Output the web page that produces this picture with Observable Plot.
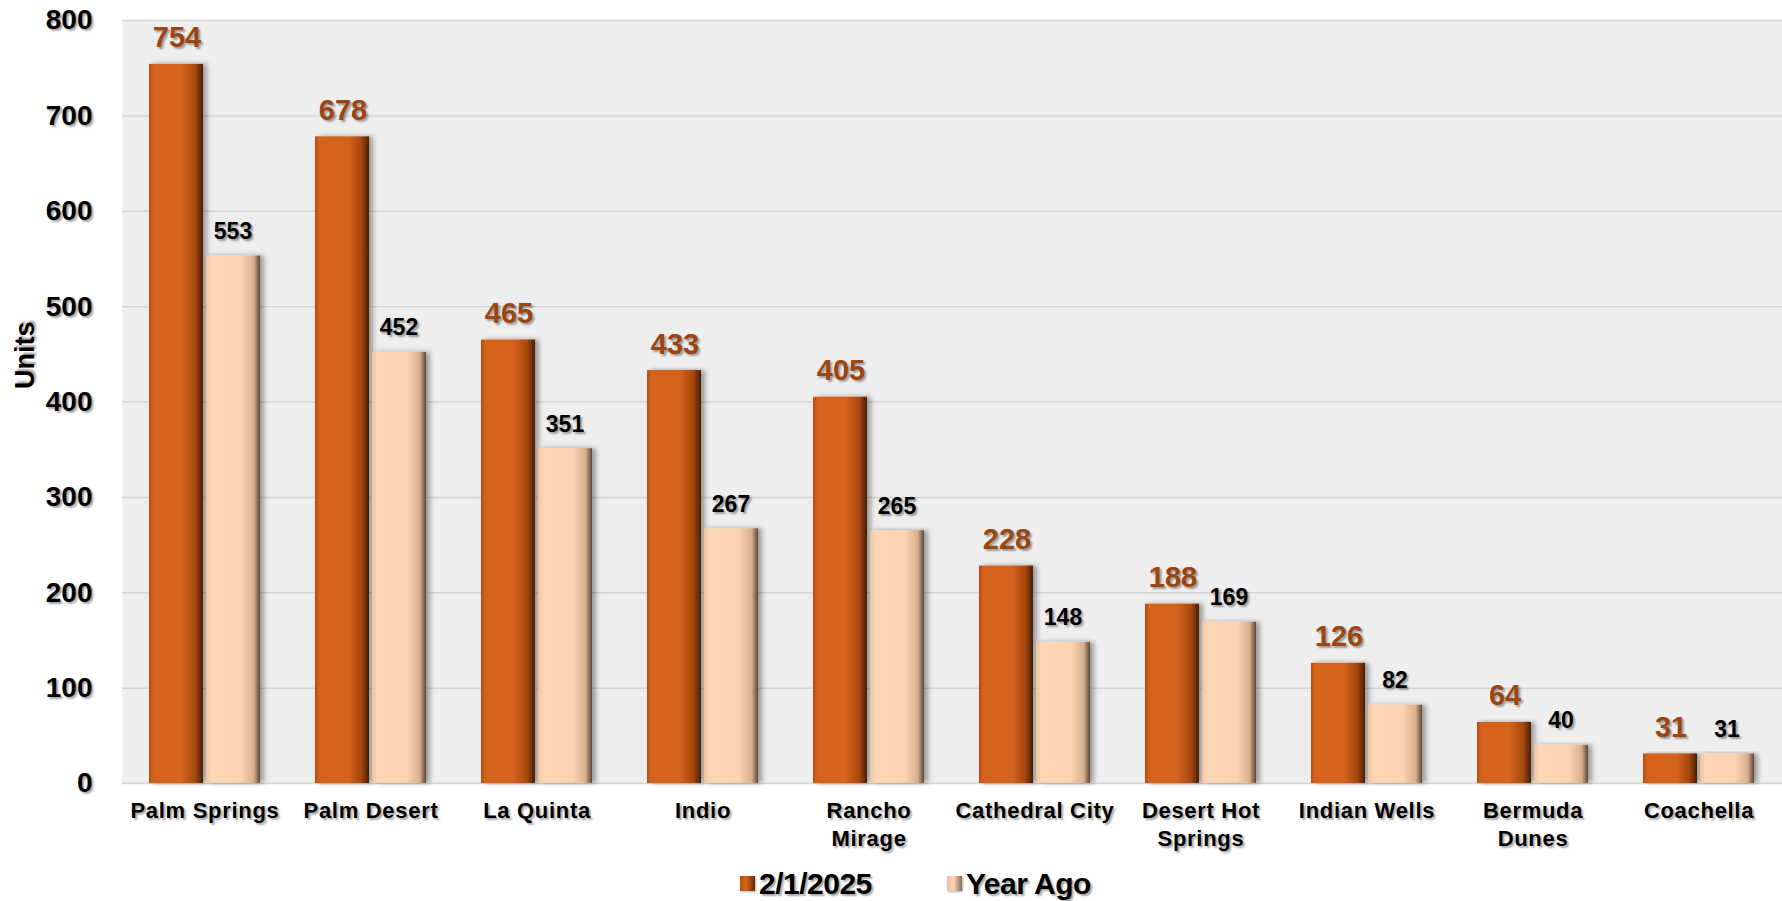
<!DOCTYPE html>
<html>
<head>
<meta charset="utf-8">
<script src="https://cdn.jsdelivr.net/npm/d3@7"></script>
<script src="https://cdn.jsdelivr.net/npm/@observablehq/plot@0.6"></script>
<style>
  html, body { margin: 0; padding: 0; background: #fff; }
  body { width: 1782px; height: 901px; overflow: hidden; font-family: "Liberation Sans", Arial, sans-serif; }
  #chart svg text { text-shadow: 2px 2px 2px rgba(0,0,0,0.35); }
  #chart g[aria-label="bar"] rect { filter: url(#barShadow); }
  #chart g[aria-label="x-axis tick label"] text { letter-spacing: 0.7px; }
  #legend { position: relative; height: 35px; font-weight: bold; font-size: 30px; }
  #legend .item { position: absolute; top: 0; height: 35px; display: flex; align-items: center; gap: 4px; text-shadow: 2px 2px 2px rgba(0,0,0,0.35); letter-spacing: -0.5px; }
  #legend .sw { width: 15px; height: 15px; display: inline-block; box-shadow: 1px 1px 2px rgba(0,0,0,0.3); }
</style>
</head>
<body>
<div id="chart"></div>
<div id="legend"></div>
<script>
const cities = ["Palm Springs", "Palm Desert", "La Quinta", "Indio", "Rancho Mirage", "Cathedral City", "Desert Hot Springs", "Indian Wells", "Bermuda Dunes", "Coachella"];
const cityLabels = ["Palm Springs", "Palm Desert", "La Quinta", "Indio", "Rancho\nMirage", "Cathedral City", "Desert Hot\nSprings", "Indian Wells", "Bermuda\nDunes", "Coachella"];
const current = [754, 678, 465, 433, 405, 228, 188, 126, 64, 31];
const yearAgo = [553, 452, 351, 267, 265, 148, 169, 82, 40, 31];
const seriesNames = ["2/1/2025", "Year Ago"];
const yTicks = [0, 100, 200, 300, 400, 500, 600, 700, 800];

const rows = cities.map((c, i) => ({city: c, cur: current[i], ago: yearAgo[i]}));
const labelOf = new Map(cities.map((c, i) => [c, cityLabels[i]]));

const font = '"Liberation Sans", Arial, sans-serif';

const plot = Plot.plot({
  width: 1782,
  height: 866,
  marginLeft: 122,
  marginRight: 0,
  marginTop: 20,
  marginBottom: 83,
  style: {fontFamily: font, background: "transparent", overflow: "visible"},
  x: {domain: cities, paddingInner: 0.33, paddingOuter: 0.165, label: null},
  y: {domain: [0, 800], label: null},
  marks: [
    Plot.frame({fill: "#eeeeee", stroke: null}),
    Plot.gridY(yTicks, {stroke: "#d4d4d4", strokeOpacity: 1, strokeWidth: 1.5}),
    Plot.barY(rows, {x: "city", y: "cur", fill: "url(#gCur)", insetRight: 57}),
    Plot.barY(rows, {x: "city", y: "ago", fill: "url(#gAgo)", insetLeft: 57}),
    Plot.text(rows, {x: "city", y: "cur", text: d => String(d.cur), dx: -28, dy: -17, lineAnchor: "bottom", fill: "#9a4512", fontSize: 29, fontWeight: "bold"}),
    Plot.text(rows, {x: "city", y: "ago", text: d => String(d.ago), dx: 28, dy: -17, lineAnchor: "bottom", fill: "#000", fontSize: 23, fontWeight: "bold"}),
    Plot.axisY({ticks: yTicks, tickSize: 0, tickPadding: 30, fontSize: 28, fontWeight: "bold", fill: "#000", label: null}),
    Plot.text(["Units"], {frameAnchor: "left", dx: -97, dy: -13, rotate: -90, fontSize: 27, fontWeight: "bold", fill: "#000"}),
    Plot.axisX({tickSize: 0, tickPadding: 15, fontSize: 22, fontWeight: "bold", fill: "#000", lineHeight: 1.27, tickFormat: d => labelOf.get(d), label: null})
  ]
});

// gradient & shadow defs
const ns = "http://www.w3.org/2000/svg";
const defs = document.createElementNS(ns, "defs");
defs.innerHTML = `
  <linearGradient id="gCur" x1="0" x2="1" y1="0" y2="0">
    <stop offset="0" stop-color="#b14d12"/>
    <stop offset="0.08" stop-color="#d6641c"/>
    <stop offset="0.6" stop-color="#d5631b"/>
    <stop offset="0.85" stop-color="#a9480f"/>
    <stop offset="1" stop-color="#4a1d04"/>
  </linearGradient>
  <linearGradient id="gAgo" x1="0" x2="1" y1="0" y2="0">
    <stop offset="0" stop-color="#eec3a0"/>
    <stop offset="0.1" stop-color="#fdd6b6"/>
    <stop offset="0.65" stop-color="#fcd3b1"/>
    <stop offset="0.88" stop-color="#d9b08e"/>
    <stop offset="1" stop-color="#5e4636"/>
  </linearGradient>
  <filter id="barShadow" x="-20%" y="-5%" width="150%" height="110%">
    <feDropShadow dx="4" dy="0" stdDeviation="2.5" flood-color="#000" flood-opacity="0.35"/>
  </filter>`;
plot.insertBefore(defs, plot.firstChild);
document.getElementById("chart").appendChild(plot);

// legend
const legend = document.getElementById("legend");
const legendFills = ["linear-gradient(90deg,#b14d12,#d6641c 40%,#6a2a06)", "linear-gradient(90deg,#e8c0a0,#fbd5b6 45%,#8a6a55)"];
const legendLeft = [740, 947];
seriesNames.forEach((name, i) => {
  const item = document.createElement("div");
  item.className = "item";
  item.style.left = legendLeft[i] + "px";
  const sw = document.createElement("span");
  sw.className = "sw";
  sw.style.background = legendFills[i];
  item.appendChild(sw);
  const t = document.createElement("span");
  t.textContent = name;
  item.appendChild(t);
  legend.appendChild(item);
});
</script>
</body>
</html>
